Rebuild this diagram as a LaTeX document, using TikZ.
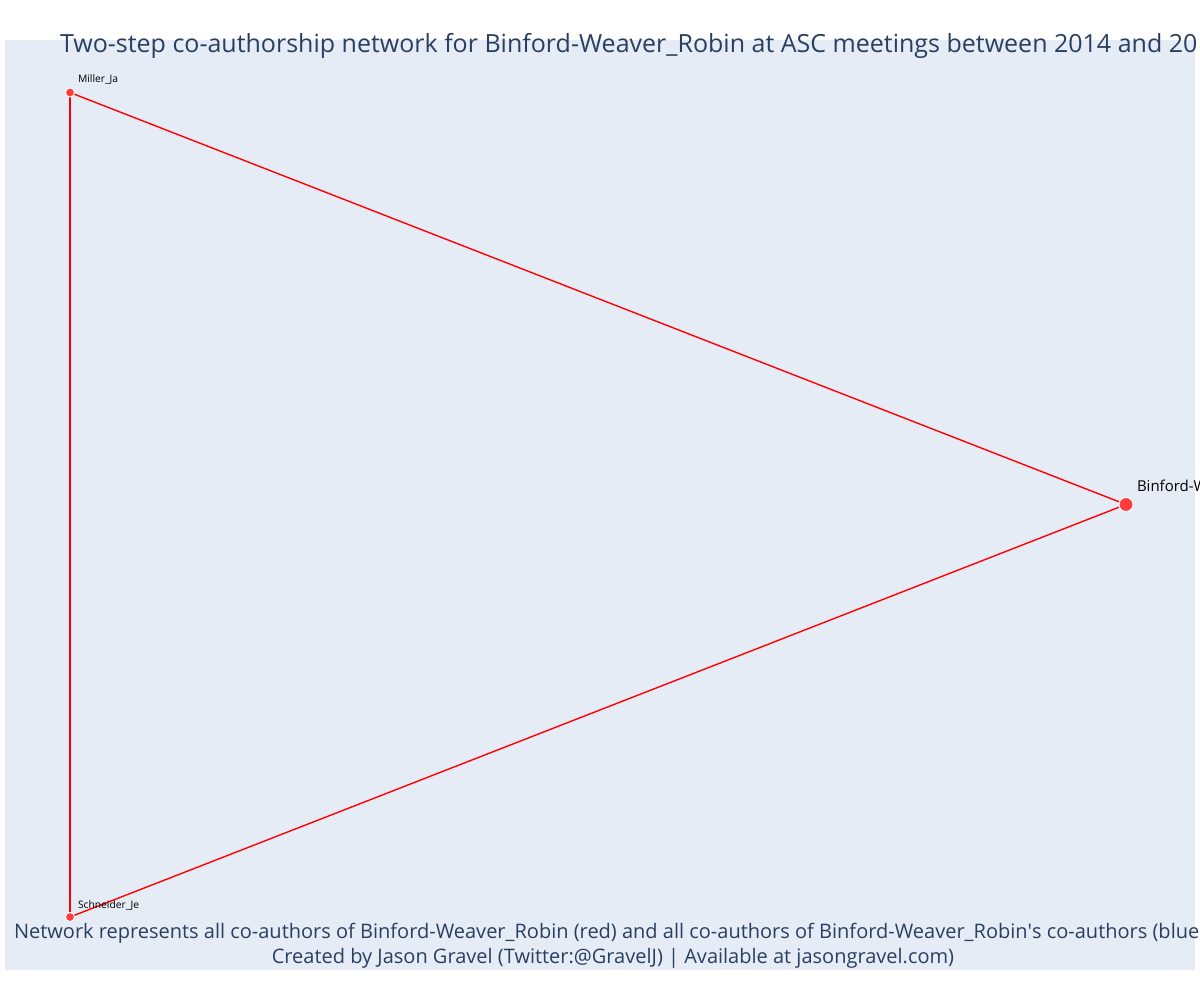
\documentclass[tikz,border=0pt]{standalone}
\usepackage{fontspec}
\setmainfont{Open Sans}
\definecolor{plotbg}{HTML}{E5ECF6}
\definecolor{plottext}{HTML}{2A3F5F}
\definecolor{vertexred}{HTML}{FF3D3D}
\begin{document}
\begin{tikzpicture} [x=1pt, y=-1pt, every node/.style={inner sep=0pt, outer sep=0pt},
                vertex_style/.style={circle, draw=white, line width=0.9pt, fill=vertexred, minimum width=9pt},
                edge_style/.style={draw=red, line width=1.4pt}]
                \tikzset{big vertex/.style={vertex_style, minimum width=14pt},
                  name label/.style={anchor=base west, text=black, font=\fontsize{10.3}{12}\selectfont}}
                \useasboundingbox (0,0) rectangle (1200,1000);
                \fill[plotbg] (5,40) rectangle (1195,970);
                \node[vertex_style] (miller) at (70,92.5) {};
                \node[vertex_style] (schneider) at (70,917) {};
                \node[big vertex] (binford) at (1126,504.5) {};
                \draw[edge_style] (miller.center) -- (binford.center);
                \draw[edge_style] (binford.center) -- (schneider.center);
                \draw[edge_style] (schneider.center) -- (miller.center);
                \node[vertex_style] at (miller) {};
                \node[vertex_style] at (schneider) {};
                \node[big vertex] at (binford) {};
                \node[name label] (miller label) at (78,83) {Miller\_Ja};
                \node[name label] (schneider label) at (78,908) {Schneider\_Je};
                \node[name label, font=\fontsize{15}{17}\selectfont] (binford label) at (1137,491) {Binford-W};
                \node[anchor=base west, text=plottext, font=\fontsize{25}{30}\selectfont] (title) at (60,53)
                  {Two-step co-authorship network for Binford-Weaver\_Robin at ASC meetings between 2014 and 20};
                \node[anchor=base west, text=plottext, font=\fontsize{20}{24}\selectfont] (note) at (14,938)
                  {Network represents all co-authors of Binford-Weaver\_Robin (red) and all co-authors of Binford-Weaver\_Robin\textquotesingle s co-authors (blue};
                \node[anchor=base, text=plottext, font=\fontsize{20}{24}\selectfont] (credit) at (613,963)
                  {Created by Jason Gravel (Twitter:@GravelJ) | Available at jasongravel.com)};
            \end{tikzpicture}
\end{document}
